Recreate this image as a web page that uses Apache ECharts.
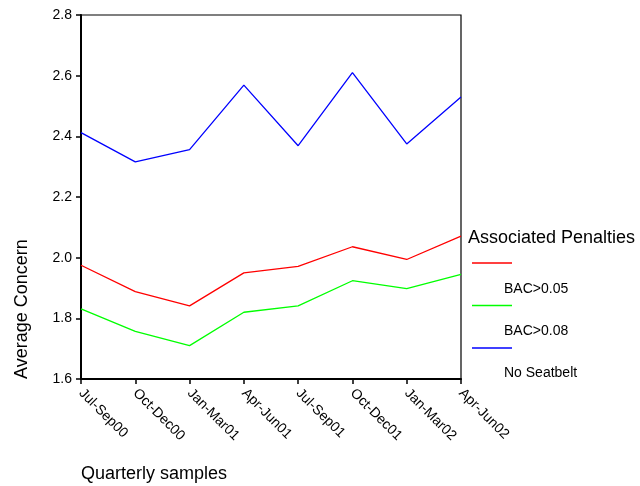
<!DOCTYPE html>
<html>
<head>
<meta charset="utf-8">
<script src="https://cdn.jsdelivr.net/npm/echarts@6/dist/echarts.min.js"></script>
<style>html,body{margin:0;padding:0;background:#fff}#c{width:640px;height:486px}</style>
</head>
<body>
<div id="c"></div>
<script>
var categories = ['Jul-Sep00','Oct-Dec00','Jan-Mar01','Apr-Jun01','Jul-Sep01','Oct-Dec01','Jan-Mar02','Apr-Jun02'];
var bac05 = [1.975, 1.888, 1.841, 1.950, 1.971, 2.036, 1.994, 2.071];
var bac08 = [1.831, 1.757, 1.710, 1.820, 1.841, 1.924, 1.898, 1.945];
var noSeatbelt = [2.412, 2.316, 2.356, 2.569, 2.369, 2.610, 2.375, 2.530];
var seriesNames = ['BAC>0.05', 'BAC>0.08', 'No Seatbelt'];
var seriesColors = ['#ff0000', '#00ff00', '#0000ff'];
var yMin = 1.6, yMax = 2.8, yStep = 0.2;

var FONT = 'Liberation Sans, Arial, Helvetica, sans-serif';
var chart = echarts.init(document.getElementById('c'), null, {renderer: 'canvas'});
var values = [bac05, bac08, noSeatbelt];
var series = values.map(function (v, i) {
  return {
    name: seriesNames[i], type: 'line', data: v, symbol: 'none', showSymbol: false,
    lineStyle: {color: seriesColors[i], width: 1.3}, itemStyle: {color: seriesColors[i]},
    animation: false, silent: true
  };
});
chart.setOption({
  animation: false,
  textStyle: {fontFamily: FONT},
  title: {
    text: 'Associated Penalties', left: 468, top: 229, padding: 0,
    textStyle: {fontSize: 18, fontWeight: 'normal', color: '#000', fontFamily: FONT}
  },
  grid: {left: 81, right: 179, top: 15, bottom: 107, show: true, borderColor: '#000', borderWidth: 1.2, backgroundColor: 'transparent'},
  xAxis: {
    type: 'category', data: categories, boundaryGap: false,
    axisLine: {lineStyle: {color: '#000', width: 2}},
    axisTick: {show: true, length: 5, inside: false, alignWithLabel: true, lineStyle: {color: '#000', width: 1.5}},
    axisLabel: {rotate: -45, interval: 0, margin: 12, fontSize: 14, color: '#000', fontFamily: FONT},
    splitLine: {show: false}
  },
  yAxis: {
    type: 'value', min: yMin, max: yMax, interval: yStep,
    axisLine: {show: true, lineStyle: {color: '#000', width: 2}},
    axisTick: {show: true, length: 5, lineStyle: {color: '#000', width: 1.5}},
    axisLabel: {margin: 9, fontSize: 14, color: '#000', fontFamily: FONT, formatter: function (v) { return v.toFixed(1); }},
    splitLine: {show: false}
  },
  legend: [
    {
      orient: 'vertical', left: 472, top: 256, padding: 0,
      itemWidth: 40, itemHeight: 1.5, itemGap: 28.5, icon: 'rect',
      data: seriesNames, selectedMode: false,
      formatter: function () { return ' '; },
      textStyle: {fontSize: 14, lineHeight: 14, fontFamily: FONT}
    },
    {
      orient: 'vertical', left: 489, top: 281, padding: 0,
      itemWidth: 10, itemHeight: 16, itemGap: 26, icon: 'none',
      data: seriesNames, selectedMode: false,
      textStyle: {fontSize: 14, lineHeight: 16, color: '#000', fontFamily: FONT}
    }
  ],
  graphic: [
    {type: 'text', x: 22, y: 309, rotation: Math.PI / 2, style: {text: 'Average Concern', fontSize: 18, fontFamily: FONT, fill: '#000', align: 'center', verticalAlign: 'middle'}},
    {type: 'text', x: 81, y: 474, style: {text: 'Quarterly samples', fontSize: 18, fontFamily: FONT, fill: '#000', align: 'left', verticalAlign: 'middle'}}
  ],
  series: series
});
</script>
</body>
</html>
